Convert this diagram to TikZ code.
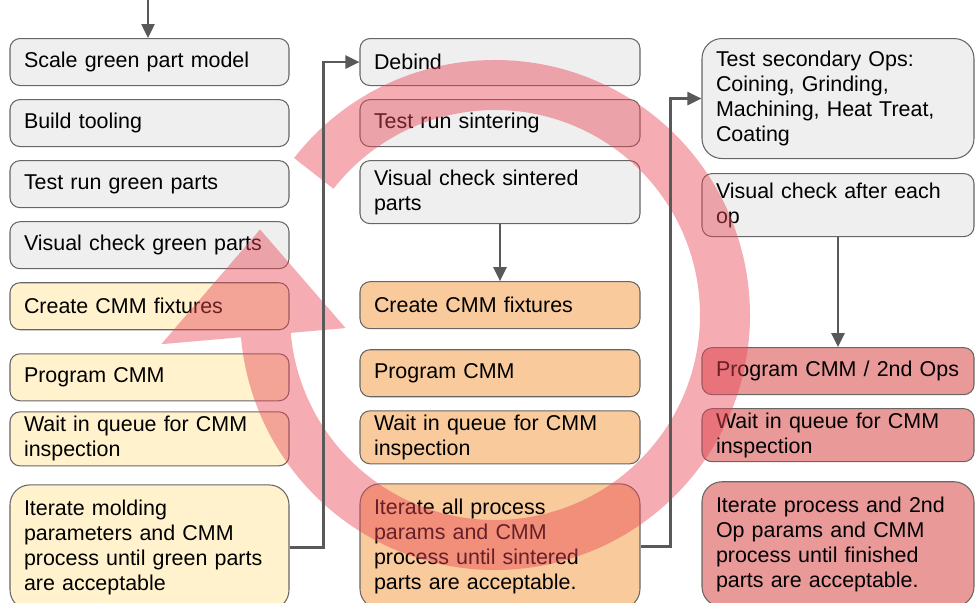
\documentclass[tikz,border=0pt]{standalone}
\usepackage{fontspec}
\setmainfont{Liberation Sans}
\usetikzlibrary{arrows.meta, positioning}
\definecolor{boxgray}{HTML}{EFEFEF}
\definecolor{boxyellow}{HTML}{FFF2CC}
\definecolor{boxorange}{HTML}{F9CB9C}
\definecolor{boxred}{HTML}{EA9999}
\definecolor{linegray}{HTML}{595959}
\definecolor{loopred}{RGB}{232,70,85}
\tikzset{
  procbox/.style={rectangle, draw=black!60, line width=0.6pt, rounded corners=0.2cm,
                  align=left, inner xsep=0.28cm, inner ysep=0.05cm,
                  minimum height=0.94cm, font=\fontsize{12.2}{14.2}\selectfont},
  colone/.style={procbox, text width=5.02cm},
  coltwo/.style={procbox, text width=5.04cm},
  colthree/.style={procbox, text width=4.88cm},
  graybox/.style={fill=boxgray},
  yellowbox/.style={fill=boxyellow},
  orangebox/.style={fill=boxorange},
  redbox/.style={fill=boxred},
  bigbox/.style={minimum height=2.5cm, rounded corners=0.4cm},
  arrow/.style={-{Triangle[length=0.28cm, width=0.26cm]}, draw=linegray, line width=1.4pt},
  loopband/.style={fill=loopred, opacity=0.45},
}

\begin{document}
\begin{tikzpicture}
  \useasboundingbox (0,0) rectangle (19.5,-12.06);

  % --- Green parts ---
  \node[colone, graybox, anchor=north] (a1) at (2.99,-0.76) {Scale green part model};
  \node[colone, graybox, below=0.26cm of a1] (a2) {Build tooling};
  \node[colone, graybox, below=0.26cm of a2] (a3) {Test run green parts};
  \node[colone, graybox, below=0.26cm of a3] (a4) {Visual check green parts};
  \node[colone, yellowbox, below=0.26cm of a4] (a5) {Create CMM fixtures};
  \node[colone, yellowbox, below=0.46cm of a5] (a6) {Program CMM};
  \node[colone, yellowbox, below=0.2cm of a6, minimum height=1.08cm] (a7)
       {Wait in queue for CMM\\inspection};
  \node[colone, yellowbox, bigbox, below=0.36cm of a7] (a8)
       {Iterate molding\\parameters and CMM\\process until green parts\\are acceptable};

  % --- Sintering ---
  \node[coltwo, graybox, anchor=north] (b1) at (10.0,-0.76) {Debind};
  \node[coltwo, graybox, below=0.26cm of b1] (b2) {Test run sintering};
  \node[coltwo, graybox, below=0.26cm of b2, minimum height=1.26cm] (b3)
       {Visual check sintered\\parts};
  \node[coltwo, orangebox, below=1.14cm of b3] (b4) {Create CMM fixtures};
  \node[coltwo, orangebox, below=0.4cm of b4] (b5) {Program CMM};
  \node[coltwo, orangebox, below=0.26cm of b5, minimum height=1.06cm] (b6)
       {Wait in queue for CMM\\inspection};
  \node[coltwo, orangebox, bigbox, below=0.38cm of b6] (b7)
       {Iterate all process\\params and CMM\\process until sintered\\parts are acceptable.};

  % --- Secondary ops ---
  \node[colthree, graybox, anchor=north, minimum height=2.4cm, rounded corners=0.4cm] (c1) at (16.76,-0.76)
       {Test secondary Ops:\\Coining, Grinding,\\Machining, Heat Treat,\\Coating};
  \node[colthree, graybox, below=0.28cm of c1, minimum height=1.26cm] (c2)
       {Visual check after each\\op};
  \node[colthree, redbox, below=2.2cm of c2] (c3) {Program CMM / 2nd Ops};
  \node[colthree, redbox, below=0.26cm of c3, minimum height=1.06cm] (c4)
       {Wait in queue for CMM\\inspection};
  \node[colthree, redbox, bigbox, below=0.38cm of c4] (c5)
       {Iterate process and 2nd\\Op params and CMM\\process until finished\\parts are acceptable.};

  % --- Iteration loop ---
  \coordinate (hub) at (9.9,-6.3);
  \fill[loopband] ([shift={(142:5.1)}]hub) arc[start angle=142, end angle=-175, radius=5.1]
    -- ([shift={(185:6.7)}]hub) -- ([shift={(160:5.0)}]hub) -- ([shift={(185:3.0)}]hub)
    -- ([shift={(185:4.1)}]hub) arc[start angle=-175, end angle=142, radius=4.1] -- cycle;

  % --- Arrows ---
  \coordinate (start) at (2.96,0);
  \draw[arrow] (start) -- (start |- a1.north);
  \draw[arrow] (a8.east) -- ++(0.68,0) |- (b1.west);
  \draw[arrow] (b3.south) -- (b4.north);
  \draw[arrow] (b7.east) -- ++(0.6,0) |- (c1.west);
  \draw[arrow] (c2.south) -- (c3.north);
\end{tikzpicture}
\end{document}
